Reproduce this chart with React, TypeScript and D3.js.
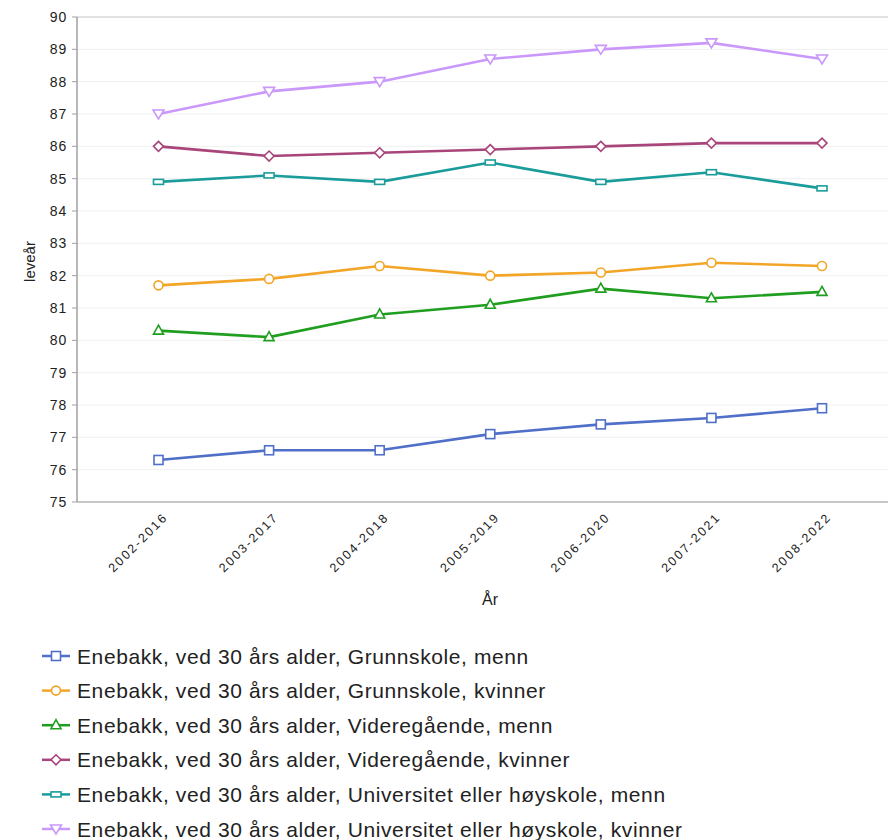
import React from "react";
import * as d3 from "d3";

const categories = ["2002-2016", "2003-2017", "2004-2018", "2005-2019", "2006-2020", "2007-2021", "2008-2022"];
const yTicks = [75, 76, 77, 78, 79, 80, 81, 82, 83, 84, 85, 86, 87, 88, 89, 90];

const grunnskoleMenn = [76.3, 76.6, 76.6, 77.1, 77.4, 77.6, 77.9];
const grunnskoleKvinner = [81.7, 81.9, 82.3, 82.0, 82.1, 82.4, 82.3];
const vgsMenn = [80.3, 80.1, 80.8, 81.1, 81.6, 81.3, 81.5];
const vgsKvinner = [86.0, 85.7, 85.8, 85.9, 86.0, 86.1, 86.1];
const uniMenn = [84.9, 85.1, 84.9, 85.5, 84.9, 85.2, 84.7];
const uniKvinner = [87.0, 87.7, 88.0, 88.7, 89.0, 89.2, 88.7];

const seriesNames = [
  "Enebakk, ved 30 års alder, Grunnskole, menn",
  "Enebakk, ved 30 års alder, Grunnskole, kvinner",
  "Enebakk, ved 30 års alder, Videregående, menn",
  "Enebakk, ved 30 års alder, Videregående, kvinner",
  "Enebakk, ved 30 års alder, Universitet eller høyskole, menn",
  "Enebakk, ved 30 års alder, Universitet eller høyskole, kvinner",
];
const seriesValues = [grunnskoleMenn, grunnskoleKvinner, vgsMenn, vgsKvinner, uniMenn, uniKvinner];
const seriesColors = ["#4f6fc9", "#f2a526", "#1f9e1f", "#a8457a", "#1a9c9a", "#c998fa"];
const seriesMarkers = ["square", "circle", "triangle", "diamond", "rect", "triangleDown"];

const FONT = "'Liberation Sans', Arial, Helvetica, sans-serif";

function Marker({ type, x, y, color }: { type: string; x: number; y: number; color: string }) {
  const common = { fill: "#fff", stroke: color, strokeWidth: 1.6 };
  switch (type) {
    case "square":
      return <rect x={x - 4.5} y={y - 4.5} width={9} height={9} {...common} />;
    case "circle":
      return <circle cx={x} cy={y} r={4.5} {...common} />;
    case "triangle":
      return <path d={`M${x},${y - 5.5} L${x + 5},${y + 3.5} L${x - 5},${y + 3.5} Z`} {...common} />;
    case "diamond":
      return <path d={`M${x},${y - 5} L${x + 5},${y} L${x},${y + 5} L${x - 5},${y} Z`} {...common} />;
    case "rect":
      return <rect x={x - 5} y={y - 2.5} width={10} height={5} {...common} />;
    case "triangleDown":
      return <path d={`M${x - 5.5},${y - 4} L${x + 5.5},${y - 4} L${x},${y + 5} Z`} {...common} />;
    default:
      return null;
  }
}

export default function App() {
  const width = 888;
  const height = 840;
  const left = 77;
  const top = 17;
  const bottom = 502;

  const x = d3.scalePoint<string>().domain(categories).range([158.5, 822]);
  const y = d3.scaleLinear().domain([75, 90]).range([bottom, top]);
  const line = d3
    .line<number>()
    .x((_, i) => x(categories[i]) as number)
    .y((d) => y(d));

  return (
    <svg
      width={width}
      height={height}
      style={{ position: "absolute", left: 0, top: 0, background: "#fff" }}
      fontFamily={FONT}
    >
      {/* gridlines */}
      {yTicks.map((t) =>
        t === 75 || t === 90 ? null : (
          <line key={"g" + t} x1={left} x2={width} y1={y(t)} y2={y(t)} stroke="#f0f0f0" strokeWidth={1} />
        )
      )}
      {/* top border */}
      <line x1={left} x2={width} y1={top} y2={top} stroke="#c4c4c4" strokeWidth={1} />
      {/* bottom axis */}
      <line x1={left} x2={width} y1={bottom} y2={bottom} stroke="#b4b4b4" strokeWidth={1.5} />
      {/* y axis */}
      <line x1={left} x2={left} y1={top} y2={bottom} stroke="#a0a0a0" strokeWidth={1.5} />
      {yTicks.map((t) => (
        <g key={"t" + t}>
          <line x1={left - 5} x2={left} y1={y(t)} y2={y(t)} stroke="#a0a0a0" strokeWidth={1} />
          <text x={left - 10} y={y(t) + 5} textAnchor="end" fontSize={14} fill="#222" letterSpacing={0.8}>
            {t}
          </text>
        </g>
      ))}
      <text
        transform={`translate(35, ${(top + bottom) / 2 + 2}) rotate(-90)`}
        textAnchor="middle"
        fontSize={15}
        fill="#222"
      >
        leveår
      </text>

      {/* x labels */}
      {categories.map((c) => (
        <text
          key={c}
          transform={`translate(${(x(c) as number) + 10}, ${bottom + 16}) rotate(-45)`}
          textAnchor="end"
          fontSize={12.5}
          letterSpacing={2}
          fill="#222"
        >
          {c}
        </text>
      ))}
      <text x={490} y={605} textAnchor="middle" fontSize={16} fill="#222">
        År
      </text>

      {/* series */}
      {seriesValues.map((vals, si) => (
        <g key={"s" + si}>
          <path d={line(vals) as string} fill="none" stroke={seriesColors[si]} strokeWidth={2.6} />
          {vals.map((v, i) => (
            <Marker key={i} type={seriesMarkers[si]} x={x(categories[i]) as number} y={y(v)} color={seriesColors[si]} />
          ))}
        </g>
      ))}

      {/* legend */}
      {seriesNames.map((name, i) => {
        const cy = 656 + i * 34.6;
        return (
          <g key={"l" + i}>
            <line x1={42} x2={70} y1={cy} y2={cy} stroke={seriesColors[i]} strokeWidth={2.5} />
            <Marker type={seriesMarkers[i]} x={56} y={cy} color={seriesColors[i]} />
            <text x={77} y={cy + 7.5} fontSize={21} letterSpacing={0.6} fill="#222">
              {name}
            </text>
          </g>
        );
      })}
    </svg>
  );
}
